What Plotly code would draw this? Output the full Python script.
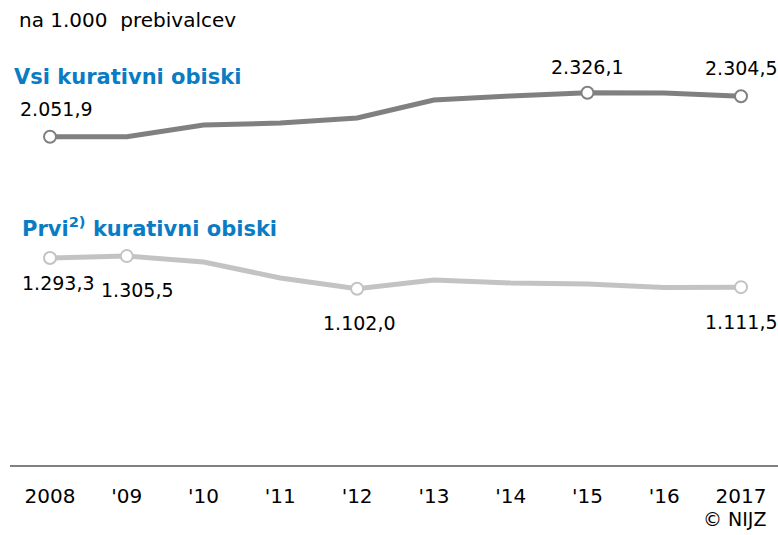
import plotly.graph_objects as go

years = [2008, 2009, 2010, 2011, 2012, 2013, 2014, 2015, 2016, 2017]
tick_labels = ["2008", "'09", "'10", "'11", "'12", "'13", "'14", "'15", "'16", "2017"]
vsi = [2051.9, 2052.0, 2125.0, 2137.0, 2169.0, 2281.0, 2306.0, 2326.1, 2325.0, 2304.5]
prvi = [1293.3, 1305.5, 1269.0, 1169.0, 1102.0, 1156.0, 1138.0, 1131.0, 1110.0, 1111.5]
vsi_marked = [0, 7, 9]
prvi_marked = [0, 1, 4, 9]

def fmt(v):
    s = f"{v:,.1f}"
    return s.replace(",", "X").replace(".", ",").replace("X", ".")

FONT = "DejaVu Sans, sans-serif"
DARK = "#808080"
LIGHT = "#c3c3c3"
BLUE = "#0a7cc4"

W, H = 778, 535
ML, MB = 10, 70
PW, PH = W - ML, H - MB

def px(x):
    return (x - ML) / PW

def py(y):
    return (PH - y) / PH

fig = go.Figure()
fig.add_trace(go.Scatter(x=years, y=vsi, mode="lines", line=dict(color=DARK, width=5), hoverinfo="skip"))
fig.add_trace(go.Scatter(x=years, y=prvi, mode="lines", line=dict(color=LIGHT, width=5), hoverinfo="skip"))
fig.add_trace(go.Scatter(x=[years[i] for i in vsi_marked], y=[vsi[i] for i in vsi_marked], mode="markers",
                         marker=dict(size=12, color="white", line=dict(color=DARK, width=2))))
fig.add_trace(go.Scatter(x=[years[i] for i in prvi_marked], y=[prvi[i] for i in prvi_marked], mode="markers",
                         marker=dict(size=12, color="white", line=dict(color=LIGHT, width=2))))

ann = []
vsi_shift = {0: (6, 28), 7: (0, 26), 9: (0, 28)}
for i, (dx, dy) in vsi_shift.items():
    ann.append(dict(x=years[i], y=vsi[i], text=fmt(vsi[i]), showarrow=False, xshift=dx, yshift=dy,
                    font=dict(size=19, color="black", family=FONT)))
prvi_shift = {0: (8, -25), 1: (11, -34), 4: (2, -34), 9: (0, -35)}
for i, (dx, dy) in prvi_shift.items():
    ann.append(dict(x=years[i], y=prvi[i], text=fmt(prvi[i]), showarrow=False, xshift=dx, yshift=dy,
                    font=dict(size=19, color="black", family=FONT)))

ann += [
    dict(xref="paper", yref="paper", x=px(17), y=py(20), xanchor="left", yanchor="middle",
         text="na 1.000  prebivalcev", showarrow=False, font=dict(size=20, color="black", family=FONT)),
    dict(xref="paper", yref="paper", x=px(12), y=py(77), xanchor="left", yanchor="middle",
         text="<b>Vsi kurativni obiski</b>", showarrow=False, font=dict(size=21, color=BLUE, family=FONT)),
    dict(xref="paper", yref="paper", x=px(20), y=py(227), xanchor="left", yanchor="middle",
         text="<b>Prvi<sup>2)</sup> kurativni obiski</b>", showarrow=False, font=dict(size=21, color=BLUE, family=FONT)),
    dict(xref="paper", yref="paper", x=px(768), y=py(519), xanchor="right", yanchor="middle",
         text="© NIJZ", showarrow=False, font=dict(size=19, color="black", family=FONT)),
]

fig.update_layout(
    width=W, height=H,
    margin=dict(l=ML, r=0, t=0, b=MB),
    paper_bgcolor="white", plot_bgcolor="white",
    showlegend=False,
    annotations=ann,
    xaxis=dict(range=[2008 - 40 * 9 / 691, 2017 + 37 * 9 / 691], showgrid=False, zeroline=False,
               showline=True, linecolor=DARK, linewidth=2,
               tickmode="array", tickvals=years, ticktext=tick_labels, ticks="",
               tickfont=dict(size=20, color="black", family=FONT), ticklabelstandoff=12),
    yaxis=dict(range=[0, PH / 0.16], visible=False, showgrid=False, zeroline=False),
)

fig.write_html("out.html", config={"displayModeBar": False},
               post_script="document.body.style.margin='0px';")
